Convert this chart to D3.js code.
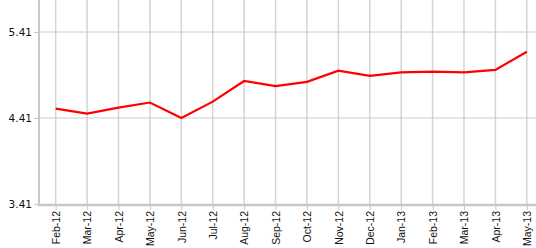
<!DOCTYPE html>
<html><head><meta charset="utf-8">
<script src="https://cdn.jsdelivr.net/npm/d3@7"></script>
<style>body{margin:0;background:#fff}svg{display:block}</style>
</head><body><svg id="c" width="536" height="248"></svg>
<script>
const categories = ["Feb-12","Mar-12","Apr-12","May-12","Jun-12","Jul-12","Aug-12","Sep-12","Oct-12","Nov-12","Dec-12","Jan-13","Feb-13","Mar-13","Apr-13","May-13"];
const values = [4.52,4.46,4.53,4.59,4.41,4.60,4.84,4.78,4.83,4.96,4.90,4.94,4.95,4.94,4.97,5.18];
const yTicks = [3.41,4.41,5.41];

(function(){
const svg = d3.select("#c");
const mLeft = 40, mBottom = 204, mTop = 0;
const x = d3.scalePoint().domain(categories).range([mLeft, 542.5]).padding(0.5);
const y = d3.scaleLinear().domain([3.41, 5.41]).range([mBottom, 32]);

// vertical gridlines
svg.append("g").selectAll("line").data(categories).join("line")
  .attr("x1", d => x(d)).attr("x2", d => x(d)).attr("y1", mTop).attr("y2", mBottom)
  .attr("stroke", "#d4d4d4").attr("stroke-width", 1.5);
// horizontal gridlines
svg.append("g").selectAll("line").data(yTicks.slice(1)).join("line")
  .attr("x1", mLeft).attr("x2", 536).attr("y1", d => y(d)).attr("y2", d => y(d))
  .attr("stroke", "#cccccc").attr("stroke-width", 1);

// y axis
const ya = svg.append("g").attr("transform", `translate(${mLeft - 1},0)`)
  .call(d3.axisLeft(y).tickValues(yTicks).tickFormat(d3.format(".2f")).tickSize(5).tickPadding(2));
ya.select(".domain").attr("d", `M0,${mTop}V${mBottom + 1}`).attr("stroke", "#c8c8c8").attr("stroke-width", 2);
ya.selectAll(".tick line").attr("stroke", "#c8c8c8");
ya.selectAll("text").attr("font-family", "DejaVu Sans, Verdana, sans-serif").attr("font-size", 10.5).attr("fill", "#111");

// x axis
const xa = svg.append("g").attr("transform", `translate(0,${mBottom + 1})`)
  .call(d3.axisBottom(x).tickSize(5).tickPadding(3));
xa.select(".domain").attr("d", `M${mLeft - 2},0H536`).attr("stroke", "#c8c8c8").attr("stroke-width", 2.5);
xa.selectAll(".tick line").attr("stroke", "#c8c8c8");
xa.selectAll("text")
  .attr("font-family", "Liberation Sans, Arial, sans-serif").attr("font-size", 10.5).attr("fill", "#111")
  .attr("text-anchor", "end").attr("dy", "0.35em")
  .attr("transform", "translate(0,6) rotate(-90)").attr("x", 0).attr("y", 0);

// line
const line = d3.line().x((d, i) => x(categories[i])).y(d => y(d));
svg.append("path").datum(values).attr("d", line)
  .attr("fill", "none").attr("stroke", "#ff0000").attr("stroke-width", 2.2).attr("stroke-linejoin", "miter");
})();
</script></body></html>
